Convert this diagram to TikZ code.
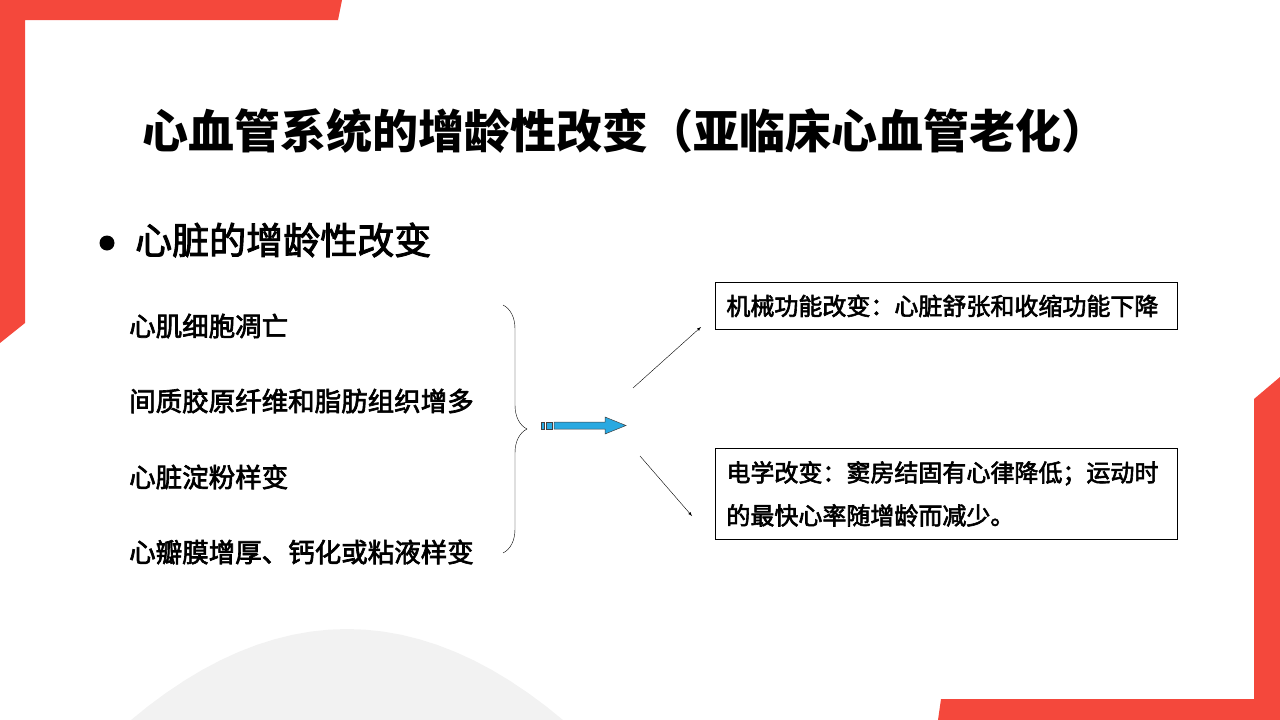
\documentclass[tikz,border=0pt]{standalone}
\usepackage{fontspec}
\setmainfont{Noto Sans CJK SC}
\newfontfamily\midfont[FakeBold=2.5]{Noto Sans CJK SC}
\usepackage{xcolor}
\definecolor{r1}{HTML}{F4483C}
\definecolor{g1}{HTML}{F2F2F2}
\definecolor{b1}{HTML}{29A9E1}
\usetikzlibrary{decorations.pathreplacing}

\begin{document}
\begin{tikzpicture}[x=1pt,y=-1pt,
	item/.style={anchor=west,inner sep=0pt,font=\fontsize{26.5}{30}\selectfont\midfont},
	infobox/.style={draw,line width=0.8pt,anchor=north west,inner xsep=11pt,inner ysep=0pt,text width=440pt,align=left,font=\fontsize{24}{43}\selectfont\midfont}]
	\useasboundingbox (0,0) rectangle (1280,720);
	\fill [r1] (0,0) -- (342,0) -- (338,20) -- (25,20) -- (25,323) -- (0,343) -- cycle; %左上角的红色边框
	\fill [r1] (1280,377) -- (1254,399) -- (1254,699) -- (941,699) -- (938,720) -- (1280,720) -- cycle; %右下角的红色边框
	\fill [g1, domain=130:564, variable=\x] (130,720) -- plot ({\x}, {629+19.5*((\x-347)/100)^2}) -- (564,720) -- cycle; %底部的灰色山丘
	
	\node (title) at (625,131) [inner sep=0pt] {\fontsize{46}{50}\selectfont\bfseries 心血管系统的增龄性改变（亚临床心血管老化）};
	\fill (107,243) circle (7.5);
	\node (heart) at (135,240) [anchor=west,inner sep=0pt] {\fontsize{37}{40}\selectfont\midfont 心脏的增龄性改变};
	
	\node (i1) at (129,326) [item] {心肌细胞凋亡};
	\node (i2) at (129,401) [item] {间质胶原纤维和脂肪组织增多};
	\node (i3) at (129,477) [item] {心脏淀粉样变};
	\node (i4) at (129,552) [item] {心瓣膜增厚、钙化或粘液样变};
	\draw [decorate,decoration={brace,amplitude=24pt}] (503,305) -- (503,553);
	
	\filldraw [fill=b1,draw=black!75,line width=0.5pt] (541,422) rectangle (544,429) (546,422) rectangle (552,429);
	\filldraw [fill=b1,draw=black!75,line width=0.5pt] (554,422) -- (605,422) -- (605,417) -- (626,425.5) -- (605,434) -- (605,429) -- (554,429) -- cycle;
	
	\node (mech) at (715,282) [infobox,minimum height=47pt] {机械功能改变：心脏舒张和收缩功能下降};
	\node (elec) at (715,448) [infobox,minimum height=91pt] {电学改变：窦房结固有心律降低；运动时\\的最快心率随增龄而减少。};
	\coordinate (up0) at (633,388);
	\coordinate (up1) at (701,327);
	\coordinate (dn0) at (640,456);
	\coordinate (dn1) at (692,516);
	\draw [-latex] (up0) -- (up1);
	\draw [-latex] (dn0) -- (dn1);
\end{tikzpicture}
\end{document}
